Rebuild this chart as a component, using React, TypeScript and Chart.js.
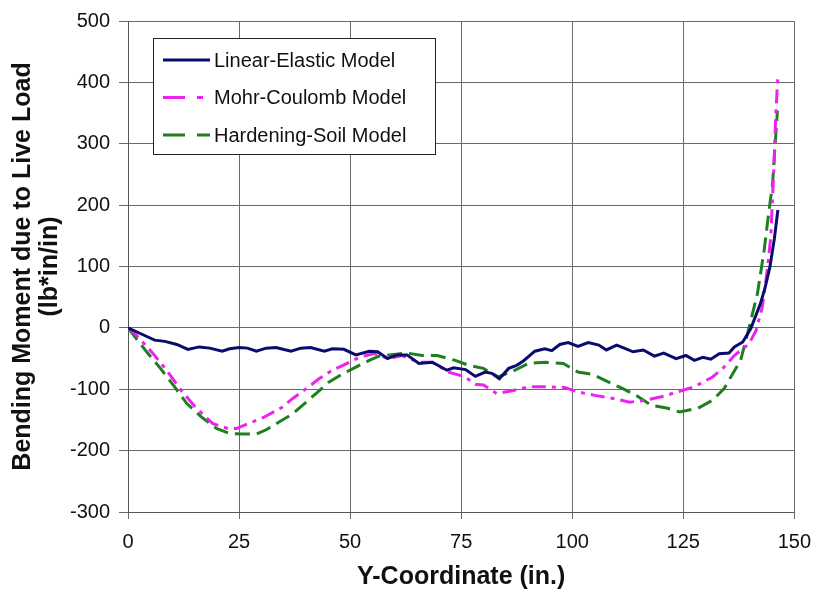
import React, { useEffect, useRef } from "react";
import { Chart, registerables } from "chart.js";

Chart.register(...registerables);

const FONT = "'Liberation Sans', Arial, sans-serif";

const seriesLabels = ["Linear-Elastic Model", "Mohr-Coulomb Model", "Hardening-Soil Model"];
const seriesColors = ["#0b0b6e", "#ee22ee", "#1f7f1f"];

const xTickValues = [0, 25, 50, 75, 100, 125, 150];
const yTickValues = [-300, -200, -100, 0, 100, 200, 300, 400, 500];

const leX = [0, 3, 6, 8.3, 11, 13.5, 16, 18.4, 21.2, 22.9, 25, 26.9, 28.9, 31.1, 33.3, 36.7, 38.9, 41.1, 44.2, 46, 48.6, 51.3, 54.3, 56.2, 58.4, 60.6, 62.8, 65.5, 68.5, 71.8, 73.3, 76, 78.2, 80.4, 81.9, 83.6, 85.7, 87.5, 89, 91.6, 93.8, 95.4, 97.2, 99.1, 101.3, 103.6, 106, 107.7, 110, 111.7, 113.7, 116, 118.5, 120.6, 123.4, 125.6, 127.5, 129.4, 131.2, 133.1, 135.3, 136.5, 138.4, 140.2, 142.4, 143.4, 144.5, 145.5, 146.3];
const leY = [0, -10, -20, -22, -27, -35, -31, -33, -38, -34, -32, -33, -38, -33, -32, -38, -33, -32, -38, -34, -35, -44, -38, -39, -50, -44, -44, -58, -56, -69, -65, -68, -79, -72, -74, -83, -66, -61, -54, -38, -34, -37, -27, -24, -30, -24, -28, -36, -28, -33, -39, -36, -46, -41, -50, -45, -53, -48, -51, -42, -41, -31, -23, -1, 40, 65, 99, 145, 192];

const mcX = [0, 1.9, 5.3, 8.7, 12, 15.4, 19.1, 22.5, 24.4, 28.1, 30.5, 34.8, 37.1, 40.1, 43, 46, 48.4, 50.6, 52.5, 55.4, 58.7, 61.7, 65.5, 68.5, 72.2, 75.9, 78.2, 80, 83, 86.8, 90.1, 93.9, 98.3, 101, 105.1, 109.2, 112.9, 116.5, 120.8, 123.8, 127.5, 131.6, 133.9, 136.5, 139.8, 141.4, 142.8, 143.9, 144.7, 145.4, 145.8, 146.3];
const mcY = [0, -12, -39, -69, -102, -131, -156, -164, -164, -153, -146, -129, -115, -99, -83, -69, -61, -53, -47, -42, -50, -45, -56, -56, -72, -80, -92, -93, -107, -102, -96, -96, -97, -104, -110, -115, -121, -118, -111, -104, -96, -80, -66, -45, -26, -4, 34, 93, 148, 261, 343, 411];

const hsX = [0, 4.2, 7.3, 10.5, 13.2, 16.5, 19.9, 22.9, 25.9, 28.9, 31.1, 34.1, 37.1, 39.8, 42.3, 45.3, 48.3, 51.3, 54.3, 56.5, 58.9, 62.8, 66.2, 69.6, 73.7, 76.7, 80, 83.4, 87.1, 90.1, 93.9, 98, 101.3, 104.7, 108.1, 111.4, 114.4, 117.8, 121.5, 124.2, 128.3, 131.6, 134.2, 136.1, 137.9, 139.1, 140.2, 141.7, 143.2, 144.3, 145.1, 145.6, 146.2];
const hsY = [0, -39, -66, -96, -123, -145, -164, -172, -173, -173, -166, -153, -140, -123, -107, -88, -75, -64, -53, -46, -44, -41, -45, -45, -53, -61, -66, -80, -69, -58, -56, -58, -72, -76, -88, -99, -110, -126, -131, -137, -131, -118, -99, -75, -53, -20, 12, 56, 126, 191, 234, 289, 354];

const lineDashes: number[][] = [[], [14, 6, 4, 6], [15, 7]];
const legendDashes: number[][] = [[], [22, 12, 6, 12], [22, 12]];

const toPoints = (xs: number[], ys: number[]) => xs.map((x, i) => ({ x, y: ys[i] }));

const boxLegend = {
  id: "boxLegend",
  afterDatasetsDraw(chart: any) {
    const { ctx, chartArea } = chart;
    const bx = chartArea.left + 25;
    const by = chartArea.top + 17;
    const bw = 282;
    const bh = 116;
    ctx.save();
    ctx.fillStyle = "#ffffff";
    ctx.fillRect(bx, by, bw, bh);
    ctx.strokeStyle = "#222222";
    ctx.lineWidth = 1;
    ctx.strokeRect(bx + 0.5, by + 0.5, bw, bh);
    chart.data.datasets.forEach((ds: any, i: number) => {
      const y = by + 22 + i * 37.5;
      ctx.beginPath();
      ctx.setLineDash(legendDashes[i]);
      ctx.strokeStyle = ds.borderColor;
      ctx.lineWidth = 3;
      ctx.moveTo(bx + 10, y);
      ctx.lineTo(bx + 57, y);
      ctx.stroke();
      ctx.setLineDash([]);
      ctx.fillStyle = "#111111";
      ctx.font = `20px ${FONT}`;
      ctx.textBaseline = "middle";
      ctx.textAlign = "left";
      ctx.fillText(ds.label, bx + 61, y + 1);
    });
    ctx.restore();
  },
};

export default function App() {
  const ref = useRef<HTMLCanvasElement | null>(null);

  useEffect(() => {
    if (!ref.current) return;
    const seriesData = [toPoints(leX, leY), toPoints(mcX, mcY), toPoints(hsX, hsY)];
    const chart = new Chart(ref.current, {
      type: "scatter",
      data: {
        datasets: seriesData.map((d, i) => ({
          label: seriesLabels[i],
          data: d,
          showLine: true,
          borderColor: seriesColors[i],
          backgroundColor: seriesColors[i],
          borderWidth: 3,
          borderDash: lineDashes[i],
          pointRadius: 0,
          tension: 0,
        })),
      },
      options: {
        animation: false,
        responsive: false,
        maintainAspectRatio: false,
        layout: { padding: { top: 20, right: 25, left: 0, bottom: 0 } },
        plugins: {
          legend: { display: false },
          tooltip: { enabled: false },
        },
        scales: {
          x: {
            type: "linear",
            min: 0,
            max: 150,
            afterBuildTicks: (s: any) => {
              s.ticks = xTickValues.map((v) => ({ value: v }));
            },
            afterFit: (s: any) => {
              s.height = 83;
            },
            grid: { color: "#6a6a6a", lineWidth: 1, tickLength: 7, drawTicks: true },
            border: { display: true, color: "#555555", width: 1 },
            ticks: {
              color: "#111111",
              font: { family: FONT, size: 20 },
              padding: 11,
              maxRotation: 0,
              autoSkip: false,
            },
            title: {
              display: true,
              text: "Y-Coordinate (in.)",
              color: "#111111",
              font: { family: FONT, size: 25, weight: "bold", lineHeight: 1.08 },
              padding: { top: 0, bottom: 4 },
            },
          },
          y: {
            type: "linear",
            min: -300,
            max: 500,
            afterBuildTicks: (s: any) => {
              s.ticks = yTickValues.map((v) => ({ value: v }));
            },
            afterFit: (s: any) => {
              s.width = 128;
            },
            grid: { color: "#6a6a6a", lineWidth: 1, tickLength: 9, drawTicks: true },
            border: { display: true, color: "#555555", width: 1 },
            ticks: {
              color: "#111111",
              font: { family: FONT, size: 20 },
              padding: 9,
              autoSkip: false,
            },
            title: {
              display: true,
              text: ["Bending Moment due to Live Load", "(lb*in/in)"],
              color: "#111111",
              font: { family: FONT, size: 25, weight: "bold", lineHeight: 1.08 },
              padding: { top: 10, bottom: 0 },
            },
          },
        },
      },
      plugins: [boxLegend],
    });
    return () => chart.destroy();
  }, []);

  return (
    <div style={{ position: "absolute", left: 0, top: 0, width: 822, height: 595, background: "#ffffff" }}>
      <canvas ref={ref} width={822} height={595} style={{ width: 822, height: 595, display: "block" }} />
    </div>
  );
}
